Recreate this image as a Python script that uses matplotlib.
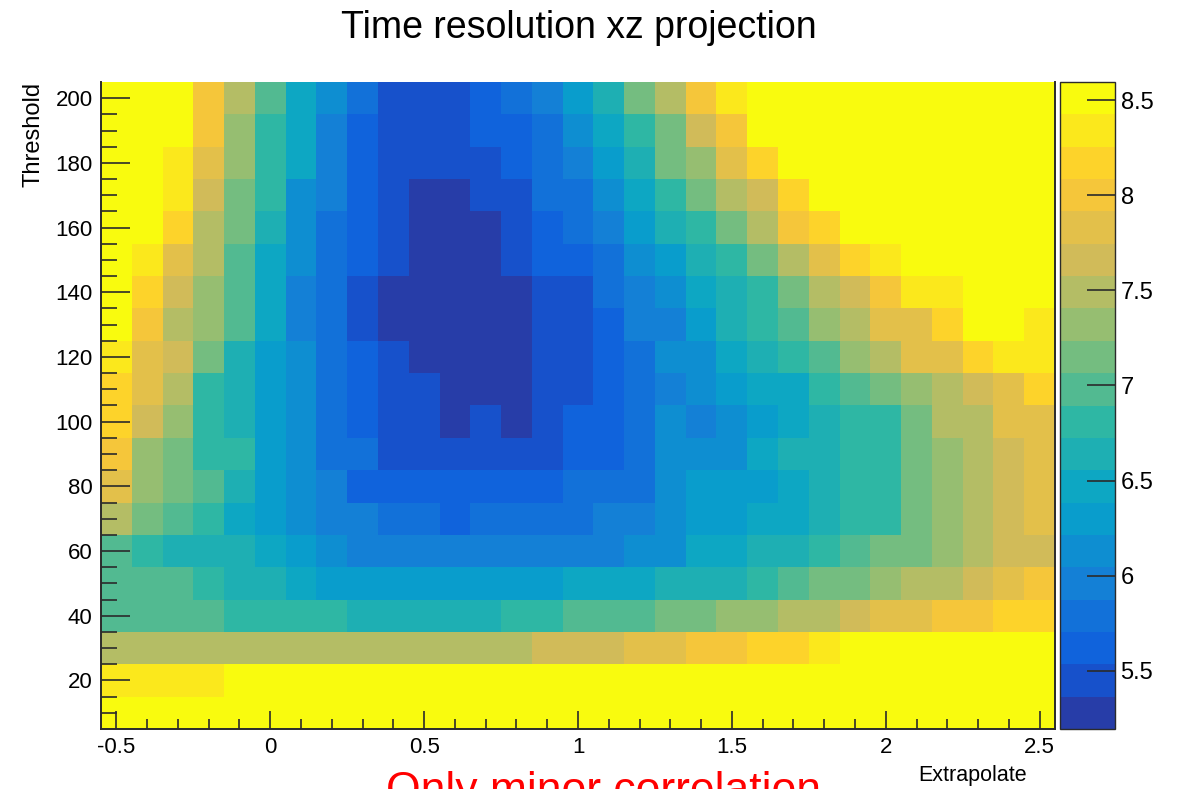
import numpy as np
import matplotlib.pyplot as plt
from matplotlib.colors import LinearSegmentedColormap, ListedColormap, BoundaryNorm

plt.rcParams['font.family'] = ['Liberation Sans', 'DejaVu Sans']

# bin centres of the 2D histogram
extrapolate = np.round(np.arange(-0.5, 2.55, 0.1), 2)   # 31 bins
threshold = np.arange(200, 0, -10)                       # rows below go top -> bottom

# time resolution per (threshold, extrapolate) bin, one list per threshold row
res_200 = [8.55, 8.55, 8.55, 8.00, 7.49, 6.98, 6.47, 6.13, 5.79, 5.45, 5.45, 5.45, 5.62, 5.79, 5.96, 6.30,
           6.64, 7.15, 7.49, 8.00, 8.34, 8.55, 8.55, 8.55, 8.55, 8.55, 8.55, 8.55, 8.55, 8.55, 8.55]
res_190 = [8.55, 8.55, 8.55, 8.00, 7.32, 6.81, 6.47, 5.96, 5.62, 5.45, 5.45, 5.45, 5.62, 5.62, 5.79, 6.13,
           6.47, 6.81, 7.15, 7.66, 8.00, 8.55, 8.55, 8.55, 8.55, 8.55, 8.55, 8.55, 8.55, 8.55, 8.55]
res_180 = [8.55, 8.55, 8.34, 7.83, 7.32, 6.81, 6.47, 5.96, 5.62, 5.45, 5.45, 5.45, 5.45, 5.62, 5.79, 5.96,
           6.30, 6.64, 7.15, 7.32, 7.83, 8.17, 8.55, 8.55, 8.55, 8.55, 8.55, 8.55, 8.55, 8.55, 8.55]
res_170 = [8.55, 8.55, 8.34, 7.66, 7.15, 6.81, 6.13, 5.96, 5.62, 5.45, 5.28, 5.28, 5.45, 5.45, 5.79, 5.79,
           6.13, 6.47, 6.81, 7.15, 7.49, 7.66, 8.17, 8.55, 8.55, 8.55, 8.55, 8.55, 8.55, 8.55, 8.55]
res_160 = [8.55, 8.55, 8.17, 7.49, 7.15, 6.64, 6.13, 5.79, 5.62, 5.45, 5.28, 5.28, 5.28, 5.45, 5.62, 5.79,
           5.96, 6.30, 6.64, 6.81, 7.15, 7.49, 8.00, 8.17, 8.55, 8.55, 8.55, 8.55, 8.55, 8.55, 8.55]
res_150 = [8.55, 8.34, 7.83, 7.49, 6.98, 6.47, 6.13, 5.79, 5.62, 5.45, 5.28, 5.28, 5.28, 5.45, 5.62, 5.62,
           5.79, 6.13, 6.30, 6.64, 6.81, 7.15, 7.49, 7.83, 8.17, 8.34, 8.55, 8.55, 8.55, 8.55, 8.55]
res_140 = [8.55, 8.17, 7.66, 7.32, 6.98, 6.47, 5.96, 5.79, 5.45, 5.28, 5.28, 5.28, 5.28, 5.28, 5.45, 5.45,
           5.79, 5.96, 6.13, 6.47, 6.64, 6.81, 7.15, 7.49, 7.66, 8.00, 8.34, 8.34, 8.55, 8.55, 8.55]
res_130 = [8.55, 8.00, 7.49, 7.32, 6.98, 6.47, 5.96, 5.79, 5.45, 5.28, 5.28, 5.28, 5.28, 5.28, 5.45, 5.45,
           5.62, 5.96, 5.96, 6.30, 6.64, 6.81, 6.98, 7.32, 7.49, 7.83, 7.83, 8.17, 8.55, 8.55, 8.34]
res_120 = [8.34, 7.83, 7.66, 7.15, 6.64, 6.30, 6.13, 5.79, 5.62, 5.45, 5.28, 5.28, 5.28, 5.28, 5.45, 5.45,
           5.62, 5.79, 6.13, 6.13, 6.47, 6.64, 6.81, 6.98, 7.32, 7.49, 7.83, 7.83, 8.17, 8.34, 8.34]
res_110 = [8.17, 7.83, 7.49, 6.81, 6.64, 6.30, 6.13, 5.79, 5.62, 5.45, 5.45, 5.28, 5.28, 5.28, 5.45, 5.45,
           5.62, 5.79, 5.96, 6.13, 6.30, 6.47, 6.47, 6.81, 6.98, 7.15, 7.32, 7.49, 7.66, 7.83, 8.17]
res_100 = [8.17, 7.66, 7.32, 6.81, 6.64, 6.30, 6.13, 5.79, 5.62, 5.45, 5.45, 5.28, 5.45, 5.28, 5.45, 5.62,
           5.62, 5.79, 6.13, 5.96, 6.13, 6.30, 6.47, 6.64, 6.81, 6.81, 7.15, 7.49, 7.49, 7.83, 7.83]
res_90 = [8.00, 7.32, 7.15, 6.81, 6.81, 6.30, 6.13, 5.79, 5.79, 5.45, 5.45, 5.45, 5.45, 5.45, 5.45, 5.62,
          5.62, 5.79, 6.13, 6.13, 6.13, 6.47, 6.64, 6.64, 6.81, 6.81, 7.15, 7.32, 7.49, 7.66, 7.83]
res_80 = [7.83, 7.32, 7.15, 6.98, 6.64, 6.30, 6.13, 5.96, 5.62, 5.62, 5.62, 5.62, 5.62, 5.62, 5.62, 5.79,
          5.79, 5.79, 6.13, 6.30, 6.30, 6.30, 6.47, 6.64, 6.81, 6.81, 7.15, 7.32, 7.49, 7.66, 7.83]
res_70 = [7.49, 7.15, 6.98, 6.81, 6.47, 6.30, 6.13, 5.96, 5.96, 5.79, 5.79, 5.62, 5.79, 5.79, 5.79, 5.79,
          5.96, 5.96, 6.13, 6.30, 6.30, 6.47, 6.47, 6.64, 6.81, 6.81, 7.15, 7.32, 7.49, 7.66, 7.83]
res_60 = [6.98, 6.81, 6.64, 6.64, 6.64, 6.47, 6.30, 6.13, 5.96, 5.96, 5.96, 5.96, 5.96, 5.96, 5.96, 5.96,
          5.96, 6.13, 6.13, 6.47, 6.47, 6.64, 6.64, 6.81, 6.98, 7.15, 7.15, 7.32, 7.49, 7.66, 7.66]
res_50 = [6.98, 6.98, 6.98, 6.81, 6.64, 6.64, 6.47, 6.30, 6.30, 6.30, 6.30, 6.30, 6.30, 6.30, 6.30, 6.47,
          6.47, 6.47, 6.64, 6.64, 6.64, 6.81, 6.98, 7.15, 7.15, 7.32, 7.49, 7.49, 7.66, 7.83, 8.00]
res_40 = [6.98, 6.98, 6.98, 6.98, 6.81, 6.81, 6.81, 6.81, 6.64, 6.64, 6.64, 6.64, 6.64, 6.81, 6.81, 6.98,
          6.98, 6.98, 7.15, 7.15, 7.32, 7.32, 7.49, 7.49, 7.66, 7.83, 7.83, 8.00, 8.00, 8.17, 8.17]
res_30 = [7.49, 7.49, 7.49, 7.49, 7.49, 7.49, 7.49, 7.49, 7.49, 7.49, 7.49, 7.49, 7.49, 7.49, 7.66, 7.66,
          7.66, 7.83, 7.83, 8.00, 8.00, 8.17, 8.17, 8.34, 8.55, 8.55, 8.55, 8.55, 8.55, 8.55, 8.55]
res_20 = [8.34, 8.34, 8.34, 8.34, 8.55, 8.55, 8.55, 8.55, 8.55, 8.55, 8.55, 8.55, 8.55, 8.55, 8.55, 8.55,
          8.55, 8.55, 8.55, 8.55, 8.55, 8.55, 8.55, 8.55, 8.55, 8.55, 8.55, 8.55, 8.55, 8.55, 8.55]
res_10 = [8.55, 8.55, 8.55, 8.55, 8.55, 8.55, 8.55, 8.55, 8.55, 8.55, 8.55, 8.55, 8.55, 8.55, 8.55, 8.55,
          8.55, 8.55, 8.55, 8.55, 8.55, 8.55, 8.55, 8.55, 8.55, 8.55, 8.55, 8.55, 8.55, 8.55, 8.55]

rows = [res_200, res_190, res_180, res_170, res_160, res_150, res_140, res_130, res_120, res_110,
        res_100, res_90, res_80, res_70, res_60, res_50, res_40, res_30, res_20, res_10]

z_min, z_max = 5.193, 8.596
n_contours = 20

# ROOT kBird palette, sampled the way COLZ picks its 20 contour colours
bird_r = [0.2082, 0.0592, 0.0780, 0.0232, 0.1802, 0.5301, 0.8186, 0.9956, 0.9764]
bird_g = [0.1664, 0.3599, 0.5041, 0.6419, 0.7178, 0.7492, 0.7328, 0.7862, 0.9832]
bird_b = [0.5293, 0.8684, 0.8385, 0.7914, 0.6425, 0.4662, 0.3499, 0.1968, 0.0539]
bird = LinearSegmentedColormap.from_list('bird', list(zip(bird_r, bird_g, bird_b)), N=255)
cmap = ListedColormap([bird(int((i + 0.99) * 255 / n_contours)) for i in range(n_contours)])
cmap.set_over(cmap(n_contours - 1))
cmap.set_under(cmap(0))
norm = BoundaryNorm(np.linspace(z_min, z_max, n_contours + 1), cmap.N)

x_edges = np.append(extrapolate - 0.05, extrapolate[-1] + 0.05)
y_centres = threshold[::-1]
y_edges = np.append(y_centres - 5, y_centres[-1] + 5)
Z = np.array(rows[::-1])

W, H = 1183, 789
fig = plt.figure(figsize=(W / 100, H / 100), dpi=100)
ax = fig.add_axes([101 / W, 1 - 729 / H, 954 / W, 647 / H])
mesh = ax.pcolormesh(x_edges, y_edges, Z, cmap=cmap, norm=norm)
ax.set_xlim(-0.55, 2.55)
ax.set_ylim(5, 205)

ax.set_xticks([-0.5, 0, 0.5, 1, 1.5, 2, 2.5])
ax.set_xticklabels(['-0.5', '0', '0.5', '1', '1.5', '2', '2.5'])
ax.set_xticks(np.arange(-0.5, 2.55, 0.1), minor=True)
ax.set_yticks(np.arange(20, 201, 20))
ax.set_yticks(np.arange(10, 205, 5), minor=True)

dark = '#2b2b2b'
ax.tick_params(axis='x', which='major', direction='in', length=13, width=1.2, color=dark,
               labelsize=16, pad=6)
ax.tick_params(axis='x', which='minor', direction='in', length=7, width=1.2, color=dark)
ax.tick_params(axis='y', which='major', direction='in', length=21, width=1.2, color=dark,
               labelsize=16, pad=6)
ax.tick_params(axis='y', which='minor', direction='in', length=11.5, width=1.2, color=dark)
ax.spines['top'].set_visible(False)
for side in ['left', 'bottom', 'right']:
    ax.spines[side].set_color(dark)
    ax.spines[side].set_linewidth(1.4)

# palette axis on the right
cax = fig.add_axes([1060 / W, 1 - 729 / H, 55 / W, 647 / H])
cb = fig.colorbar(mesh, cax=cax, ticks=[5.5, 6, 6.5, 7, 7.5, 8, 8.5])
cb.ax.set_yticklabels(['5.5', '6', '6.5', '7', '7.5', '8', '8.5'])
cb.ax.tick_params(direction='in', length=20, width=1.2, color=dark, labelsize=17, pad=4)
cb.ax.minorticks_off()
cb.outline.set_edgecolor(dark)
cb.outline.set_linewidth(1.0)

fig.text(579 / W, 1 - 38 / H, 'Time resolution xz projection', ha='center', va='baseline',
         fontsize=27)
fig.text(33 / W, 1 - 82 / H, 'Threshold', rotation=90, ha='center', va='top', fontsize=17)
fig.text(1027 / W, 1 - 781 / H, 'Extrapolate', ha='right', va='baseline', fontsize=15.5)
# caption sits partly below the canvas edge
fig.text(603 / W, 1 - 803 / H, 'Only minor correlation', ha='center', va='baseline',
         fontsize=32, color='#ff0000')

fig.savefig('out.png', dpi=100)
